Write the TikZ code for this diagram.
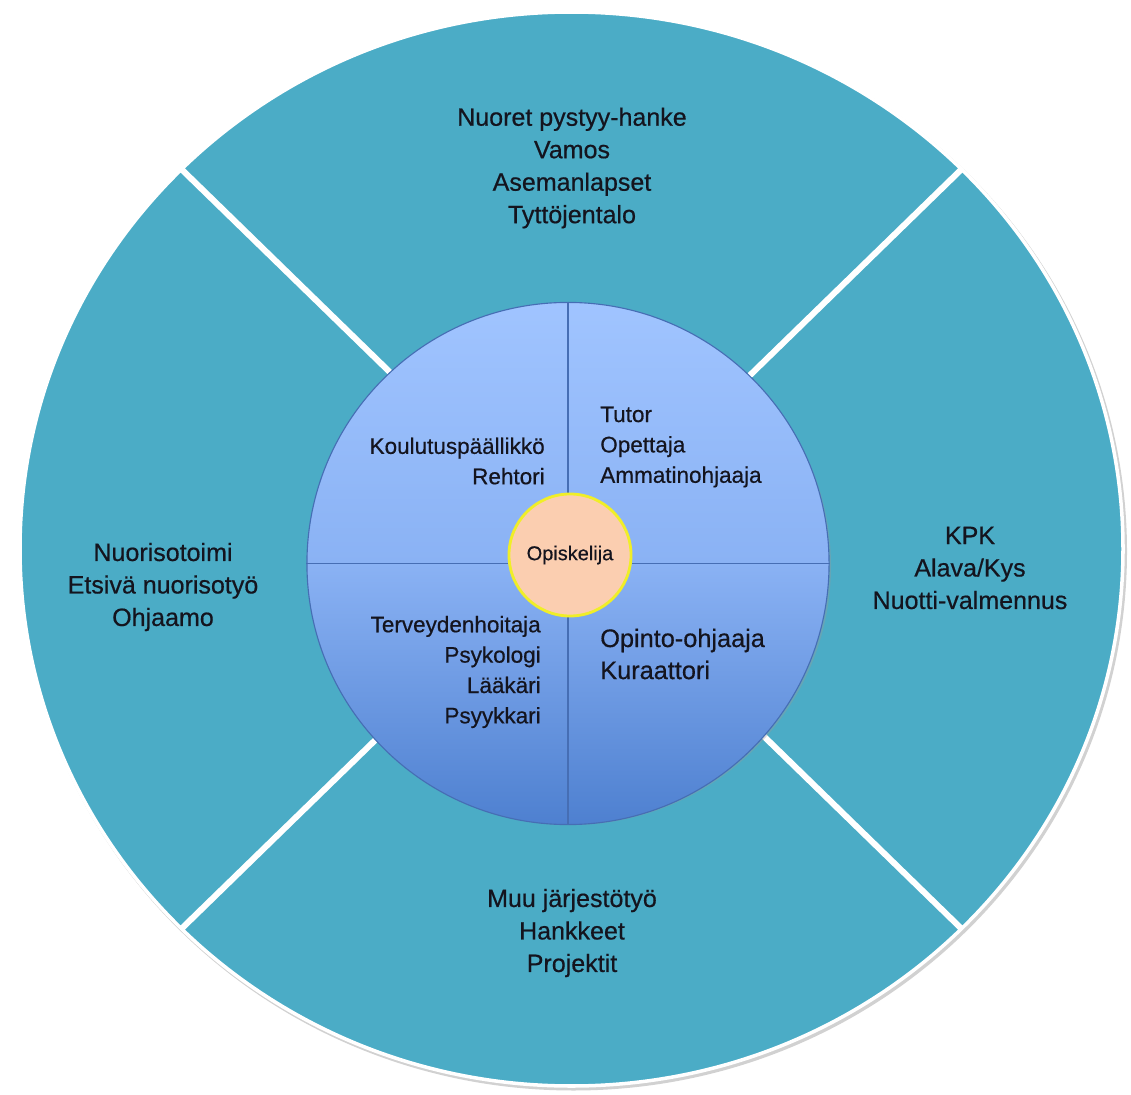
\documentclass[tikz,border=0pt]{standalone}
\usepackage{fontspec}
\setmainfont{Liberation Sans}
\newfontfamily\heavyfont{Liberation Sans}[FakeBold=0.5]
\definecolor{ringteal}{RGB}{75,172,198}
\definecolor{hubtop}{RGB}{160,196,255}
\definecolor{hubmid}{RGB}{138,178,244}
\definecolor{hubbottom}{RGB}{78,128,208}
\definecolor{hubedge}{RGB}{70,110,180}
\definecolor{peach}{RGB}{251,206,176}
\definecolor{ringyellow}{RGB}{240,238,40}
\definecolor{txtdark}{RGB}{20,20,30}
\tikzset{
  outertext/.style={align=center, text=txtdark, inner sep=0pt, font=\heavyfont\fontsize{17.8}{23.1}\selectfont},
  innertext/.style={text=txtdark, inner sep=0pt, font=\heavyfont\fontsize{16}{21.6}\selectfont},
  hubline/.style={draw=hubedge, line width=0.8pt},
}
\begin{document}
\begin{tikzpicture}[x=0.025cm,y=-0.025cm]
\useasboundingbox (0,0) rectangle (1131,1095);
% Outer ring
\fill[black!18] (573.5,551.5) ellipse [x radius=553.5, y radius=539];
\fill[ringteal] (571.5,549) ellipse [x radius=550.5, y radius=536];
% Separators
\foreach \a in {45,135,225,315}
  {\draw[white, line width=4.3pt] (571.5,549) -- ++({550.5*cos(\a)},{536*sin(\a)});}
\draw[white, line width=2.5pt] (571.5,549) ellipse [x radius=551.5, y radius=537];
% Inner circle
\fill[black!40, opacity=0.35] (570,566) ellipse [x radius=261, y radius=259];
\node[circle, minimum size=13.05cm, draw=hubedge, line width=0.8pt,
      top color=hubtop, bottom color=hubbottom, middle color=hubmid] (hub) at (568,563.5) {};
\draw[hubline] (hub.north) -- (hub.south);
\draw[hubline] (hub.west) -- (hub.east);
\node[circle, minimum size=3.05cm, fill=peach, draw=ringyellow, line width=2pt,
      text=txtdark, font=\heavyfont\fontsize{14.2}{16}\selectfont] (student) at (570,555) {Opiskelija};
% Inner texts
\node[innertext, align=right, anchor=east] (lead) at (545,461) {Koulutuspäällikkö\\Rehtori};
\node[innertext, align=left, anchor=west] (teach) at (600,447) {Tutor\\Opettaja\\Ammatinohjaaja};
\node[innertext, align=right, anchor=east] (health) at (541,672) {Terveydenhoitaja\\Psykologi\\Lääkäri\\Psyykkari};
\node[innertext, align=left, anchor=west, font=\heavyfont\fontsize{18}{22.8}\selectfont] (guide) at (600,654) {Opinto-ohjaaja\\Kuraattori};
% Outer texts
\node[outertext] (projects) at (572,168) {Nuoret pystyy-hanke\\Vamos\\Asemanlapset\\Tyttöjentalo};
\node[outertext] (youth) at (163,587) {Nuorisotoimi\\Etsivä nuorisotyö\\Ohjaamo};
\node[outertext] (care) at (970,568) {KPK\\Alava/Kys\\Nuotti-valmennus};
\node[outertext] (orgs) at (572,933) {Muu järjestötyö\\Hankkeet\\Projektit};
\end{tikzpicture}
\end{document}
